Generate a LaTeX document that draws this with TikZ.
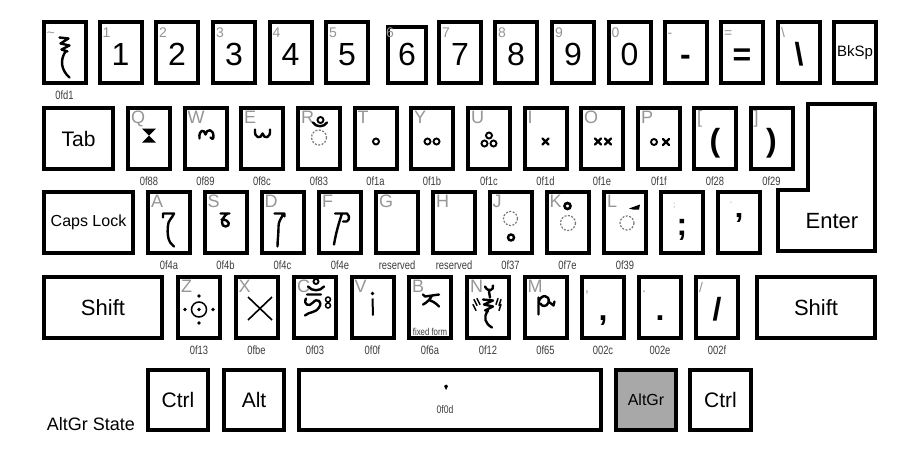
\documentclass[tikz,border=0pt]{standalone}
\usepackage{fontspec}
\setmainfont{Liberation Sans}
\newfontfamily\narrowfont[FakeStretch=0.78]{Liberation Sans}
\usepackage{xcolor}
\usepackage{tikz}
\definecolor{KeyGray}{RGB}{168, 168, 168}
\definecolor{LabelGray}{RGB}{150, 150, 150}
\definecolor{CodeGray}{RGB}{60, 60, 60}
\definecolor{DashGray}{RGB}{120, 120, 120}

\begin{document}
\begin{tikzpicture}[x=1pt, y=-1pt,
  every node/.style={inner sep=0pt},
  keycap/.style={draw, line width=4pt, fill=white, minimum width=42pt, minimum height=61pt},
  charkey/.style={keycap, font=\fontsize{32}{36}\selectfont, text height=25pt, text depth=0pt},
  boldkey/.style={charkey, font=\fontsize{32}{36}\selectfont\bfseries},
  wordkey/.style={keycap, font=\fontsize{22}{24}\selectfont},
  tl/.style={anchor=base west, xshift=5pt, yshift=-17pt, text=LabelGray, font=\fontsize{18}{18}\selectfont},
  tls/.style={tl, font=\fontsize{14}{14}\selectfont},
  tlt/.style={tl, xshift=9pt, font=\fontsize{8}{8}\selectfont},
  code/.style={anchor=base, yshift=-14pt, text=CodeGray, font=\narrowfont\fontsize{12}{12}\selectfont},
  glyph/.style={line width=2.4pt, line cap=round, line join=round},
  ring/.style={line width=1.9pt},
  dring/.style={draw=DashGray, line width=1.2pt, dash pattern=on 2pt off 1.5pt}
]
\useasboundingbox (0,0) rectangle (920,453);
\fill[white] (0,0) rectangle (920,453);

% number row
\node[keycap, label={[tls]north west:\textasciitilde}, label={[code]below:0fd1}] (kTilde) at (64.5,52.5) {};
\node[charkey, label={[tls]north west:1}] (k1) at (120.5,52.5) {1};
\node[charkey, label={[tls]north west:2}] (k2) at (177,52.5) {2};
\node[charkey, label={[tls]north west:3}] (k3) at (234,52.5) {3};
\node[charkey, label={[tls]north west:4}] (k4) at (290.5,52.5) {4};
\node[charkey, label={[tls]north west:5}] (k5) at (347,52.5) {5};
\node[charkey, minimum width=38pt, minimum height=56pt, text height=20pt, label={[tls, xshift=-5pt, yshift=5pt]north west:6}] (k6) at (407,55) {6};
\node[charkey, label={[tls]north west:7}] (k7) at (460,52.5) {7};
\node[charkey, label={[tls]north west:8}] (k8) at (516,52.5) {8};
\node[charkey, label={[tls]north west:9}] (k9) at (573,52.5) {9};
\node[charkey, label={[tls]north west:0}] (k0) at (629.5,52.5) {0};
\node[boldkey, label={[tls]north west:-}] (kMinus) at (685.5,52.5) {-};
\node[boldkey, label={[tls]north west:=}] (kEqual) at (742,52.5) {=};
\node[boldkey, label={[tls]north west:\textbackslash}] (kBslash) at (799,52.5) {\textbackslash};
\node[wordkey, font=\fontsize{15}{17}\selectfont] (kBksp) at (855,52.5) {BkSp};

% top letter row
\node[wordkey, minimum width=69pt, font=\fontsize{21}{23}\selectfont] (kTab) at (78.5,138.5) {Tab};
\node[keycap, label={[tl]north west:Q}, label={[code]below:0f88}] (kQ) at (149,138.5) {};
\node[keycap, label={[tl]north west:W}, label={[code]below:0f89}] (kW) at (205.5,138.5) {};
\node[keycap, label={[tl]north west:E}, label={[code]below:0f8c}] (kE) at (262,138.5) {};
\node[keycap, label={[tl]north west:R}, label={[code]below:0f83}] (kR) at (319,138.5) {};
\node[keycap, label={[tl]north west:T}, label={[code]below:0f1a}] (kT) at (375.5,138.5) {};
\node[keycap, label={[tl]north west:Y}, label={[code]below:0f1b}] (kY) at (432,138.5) {};
\node[keycap, label={[tl]north west:U}, label={[code]below:0f1c}] (kU) at (489,138.5) {};
\node[keycap, label={[tl]north west:I}, label={[code]below:0f1d}] (kI) at (545.5,138.5) {};
\node[keycap, label={[tl]north west:O}, label={[code]below:0f1e}] (kO) at (602,138.5) {};
\node[keycap, label={[tl]north west:P}, label={[code]below:0f1f}] (kP) at (659,138.5) {};
\node[boldkey, label={[tl]north west:[}, label={[code]below:0f28}] (kLbrack) at (715,138.5) {(};
\node[boldkey, label={[tl]north west:]}, label={[code]below:0f29}] (kRbrack) at (771.5,138.5) {)};

% home row
\node[wordkey, minimum width=89pt, font=\fontsize{16}{18}\selectfont] (kCaps) at (88.5,222.5) {Caps Lock};
\node[keycap, label={[tl]north west:A}, label={[code]below:0f4a}] (kA) at (169,222.5) {};
\node[keycap, label={[tl]north west:S}, label={[code]below:0f4b}] (kS) at (225.5,222.5) {};
\node[keycap, label={[tl]north west:D}, label={[code]below:0f4c}] (kD) at (282.5,222.5) {};
\node[keycap, label={[tl]north west:F}, label={[code]below:0f4e}] (kF) at (340,222.5) {};
\node[keycap, label={[tl]north west:G}, label={[code]below:reserved}] (kG) at (397,222.5) {};
\node[keycap, label={[tl]north west:H}, label={[code]below:reserved}] (kH) at (454,222.5) {};
\node[keycap, label={[tl]north west:J}, label={[code]below:0f37}] (kJ) at (510.5,222.5) {};
\node[keycap, label={[tl]north west:K}, label={[code]below:0f7e}] (kK) at (567.5,222.5) {};
\node[keycap, label={[tl]north west:L}, label={[code]below:0f39}] (kL) at (625,222.5) {};
\node[boldkey, label={[tlt]north west:;}] (kSemi) at (682,222.5) {;};
\node[boldkey, label={[tlt]north west:'}] (kQuote) at (739,222.5) {'};

% enter
\draw[line width=4pt, fill=white] (808,104) -- (875,104) -- (875,251) -- (778,251) -- (778,190) -- (808,190) -- cycle;
\node[font=\fontsize{22}{24}\selectfont] (kEnter) at (832,221) {Enter};

% bottom letter row
\node[wordkey, minimum width=118pt] (kLShift) at (103,307.5) {Shift};
\node[keycap, label={[tl]north west:Z}, label={[code]below:0f13}] (kZ) at (199,307.5) {};
\node[keycap, label={[tl]north west:X}, label={[code]below:0fbe}] (kX) at (256.5,307.5) {};
\node[keycap, label={[tl]north west:C}, label={[code]below:0f03}] (kC) at (315,307.5) {};
\node[keycap, label={[tl]north west:V}, label={[code]below:0f0f}] (kV) at (372.5,307.5) {};
\node[keycap, label={[tl]north west:B}, label={[code]below:0f6a}] (kB) at (430,307.5) {};
\node[keycap, label={[tl]north west:N}, label={[code]below:0f12}] (kN) at (488,307.5) {};
\node[keycap, label={[tl]north west:M}, label={[code]below:0f65}] (kM) at (545.5,307.5) {};
\node[boldkey, label={[tls]north west:,}, label={[code]below:002c}] (kComma) at (603,307.5) {,};
\node[boldkey, label={[tls]north west:.}, label={[code]below:002e}] (kPeriod) at (660,307.5) {.};
\node[boldkey, label={[tls]north west:/}, label={[code]below:002f}] (kSlash) at (717,307.5) {/};
\node[wordkey, minimum width=118pt] (kRShift) at (816,307.5) {Shift};
\node[text=CodeGray, font=\narrowfont\fontsize{10}{10}\selectfont] (tFixed) at (430,332) {fixed form};

% space row
\node[wordkey, minimum width=60pt, minimum height=60pt, font=\fontsize{21}{23}\selectfont] (kLCtrl) at (178,400) {Ctrl};
\node[wordkey, minimum width=60pt, minimum height=60pt, font=\fontsize{21}{23}\selectfont] (kAlt) at (254,400) {Alt};
\node[keycap, minimum width=302pt, minimum height=60pt] (kSpace) at (450,400) {};
\node[wordkey, minimum width=60pt, minimum height=60pt, fill=KeyGray, font=\fontsize{16}{18}\selectfont] (kAltGr) at (646,400) {AltGr};
\node[wordkey, minimum width=61pt, minimum height=60pt, font=\fontsize{21}{23}\selectfont] (kRCtrl) at (720.5,400) {Ctrl};
\node[anchor=base, font=\fontsize{18}{20}\selectfont] (tState) at (91,430) {AltGr State};
\node[text=CodeGray, font=\narrowfont\fontsize{11}{11}\selectfont] (tShad) at (445,410) {0f0d};

% tibetan glyphs
\draw[glyph, shift={(kTilde.center)}] (-5,-15) -- (4,-14) -- (-4,-9) -- (5,-7) -- (-3,-3) -- (3,-1) (1,-1) .. controls (-5,8) and (-3,18) .. (5,25);
\fill[shift={(kQ.center)}] (-7,-10) -- (7,-10) -- (0,-3) -- cycle (-7,4) -- (7,4) -- (0,-3) -- cycle;
\draw[glyph, shift={(kW.center)}] (-6,0) .. controls (-7,-9) and (-1,-10) .. (0,-4) .. controls (1,-10) and (8,-10) .. (8,-2) .. controls (8,1) and (6,1) .. (5,-1);
\draw[glyph, shift={(kE.center)}] (-7,-9) .. controls (-8,0) and (-1,1) .. (0.5,-5) .. controls (2,1) and (9,0) .. (8,-9);
\draw[dring, shift={(kR.center)}] (0,-1) circle (7.5);
\draw[glyph, shift={(kR.center)}] (-6,-16) .. controls (-3,-11) and (5,-11) .. (8,-16);
\draw[ring, shift={(kR.center)}] (1.5,-18.5) circle (3);
\draw[ring, shift={(kT.center)}] (0.5,3) circle (3);
\draw[ring, shift={(kY.center)}] (-4.5,3) circle (3) (4.5,3) circle (3);
\draw[ring, shift={(kU.center)}] (0,-3) circle (3) (-4.5,5) circle (3) (4.5,5) circle (3);
\draw[glyph, shift={(kI.center)}] (-3,0) -- (3,6) (-3,6) -- (3,0);
\draw[glyph, shift={(kO.center)}] (-7,0) -- (-1,6) (-7,6) -- (-1,0) (3,0) -- (9,6) (3,6) -- (9,0);
\draw[ring, shift={(kP.center)}] (-5,3.5) circle (3);
\draw[glyph, shift={(kP.center)}] (4,0.5) -- (10,6.5) (4,6.5) -- (10,0.5);
\draw[glyph, shift={(kA.center)}] (-6,-5) -- (-6,-9) -- (5,-9) .. controls (3,-4) and (-1,-2) .. (-1,3) .. controls (-2,12) and (-1,20) .. (5,24);
\draw[glyph, shift={(kS.center)}] (-5,-9) -- (4,-9) (2,-9) .. controls (-5,-4) and (-5,4) .. (0,4) .. controls (5,4) and (5,-3) .. (-4,-3);
\draw[glyph, shift={(kD.center)}] (-8,-9) -- (2,-9) -- (2,-6) (1,-9) .. controls (-1,-4) and (-4,-2) .. (-4,4) .. controls (-4,12) and (-5,18) .. (-5,24);
\draw[glyph, shift={(kF.center)}] (-5,-9) -- (7,-9) .. controls (11,-6) and (9,1) .. (3,-1) (2,-9) .. controls (-1,0) and (-4,10) .. (-6,22);
\draw[dring, shift={(kJ.center)}] (0,-4) circle (7);
\draw[ring, line width=2.4pt, shift={(kJ.center)}] (0.5,15) circle (3);
\draw[dring, shift={(kK.center)}] (0.5,0.5) circle (7.5);
\draw[ring, line width=2.6pt, shift={(kK.center)}] (0,-16.5) circle (3);
\draw[dring, shift={(kL.center)}] (2,0.5) circle (7);
\fill[shift={(kL.center)}] (4,-14) -- (15,-18) -- (14,-13) -- (8,-13) -- cycle;
\draw[ring, line width=1.5pt, shift={(kZ.center)}] (0,2) circle (7.5);
\fill[shift={(kZ.center)}] (0,2) circle (1.8) (0,-11.5) circle (1.8) (0,15.5) circle (1.8) (-14,2) circle (1.8) (14,2) circle (1.8);
\draw[line width=1.6pt, shift={(kX.center)}] (-8.5,-10.5) -- (15.5,12.5) (15.5,-10.5) -- (-8.5,12.5);
\draw[glyph, shift={(kC.center)}] (-7,-21) .. controls (-3,-16) and (5,-16) .. (9,-21);
\draw[ring, shift={(kC.center)}] (1,-26) circle (2.5);
\draw[glyph, shift={(kC.center)}] (-8,-13) -- (6,-13) (-9,-9) .. controls (-12,-3) and (-6,0) .. (-2,-5) .. controls (2,-10) and (8,-6) .. (4,0) .. controls (0,6) and (-6,4) .. (-10,8);
\draw[ring, line width=1.5pt, shift={(kC.center)}] (13,-8) circle (2.5) (13,-2) circle (2.5);
\draw[line width=2pt, shift={(kV.center)}] (0,-9) -- (0.5,8);
\fill[shift={(kV.center)}] (0,-14) circle (1.8);
\draw[glyph, shift={(kB.center)}] (-7,-13) -- (-5,-11) -- (9,-13) (2,-12) .. controls (0,-8) and (-3,-5) .. (-7,-3) (0,-7) .. controls (4,-6) and (7,-3) .. (9,-1);
\draw[glyph, shift={(kN.center)}] (-3,-21) .. controls (0,-15) and (6,-17) .. (5,-22) (1,-16) -- (2,-10) (-5,-8) -- (5,-7) -- (-4,-3) -- (5,-1) -- (-3,3) (0,3) .. controls (-5,10) and (-3,16) .. (4,20);
\draw[line width=1.5pt, line cap=round, shift={(kN.center)}] (-14,-8) -- (-11,-2) (-11,-9) -- (-8,-3) (-15,-3) -- (-12,3) (10,-9) -- (8,-3) (13,-8) -- (11,-2) (13,-3) -- (11,3);
\draw[glyph, shift={(kM.center)}] (-7,-10) -- (-7,7) (-7,-5) .. controls (-5,-14) and (5,-13) .. (3,-5) .. controls (1,0) and (-4,-1) .. (-5,-4) (3,-6) -- (8,-2) -- (9,-6);
\fill[shift={(kSpace.center)}] (-6,-14) .. controls (-5,-16) and (-2,-16) .. (-2,-14) -- (-4,-10) -- cycle;
\end{tikzpicture}
\end{document}
